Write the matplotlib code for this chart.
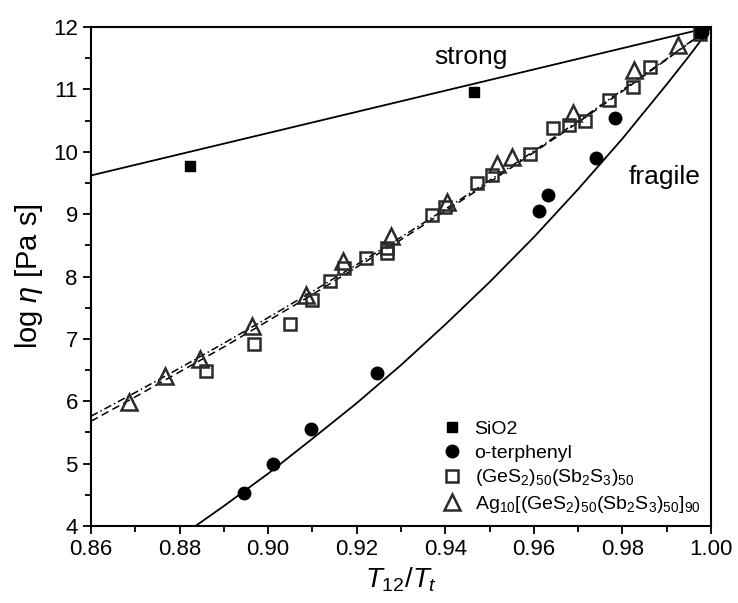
import matplotlib
matplotlib.use('Agg')

import matplotlib.pyplot as plt
from matplotlib.ticker import MultipleLocator

plt.rcParams.update({
    'font.family': ['Liberation Sans', 'DejaVu Sans'],
    'mathtext.fontset': 'custom',
    'mathtext.rm': 'Liberation Sans',
    'mathtext.it': 'Liberation Sans:italic',
    'font.size': 15,
})

# ── data ─────────────────────────────────────────────────────────────────────
sio2_x = [0.8824, 0.9465, 0.9975]
sio2_y = [9.77, 10.96, 11.90]

oter_x = [0.8945, 0.9011, 0.9097, 0.9246, 0.9611, 0.9632, 0.9740, 0.9783, 0.9980]
oter_y = [4.53, 4.99, 5.55, 6.45, 9.05, 9.30, 9.90, 10.54, 11.92]

gs_x = [0.8860, 0.8968, 0.9050, 0.9100, 0.9140, 0.9171, 0.9221, 0.9268, 0.9268,
        0.9370, 0.9400, 0.9472, 0.9505, 0.9591, 0.9643, 0.9679, 0.9715, 0.9770,
        0.9824, 0.9862, 0.9975]
gs_y = [6.48, 6.92, 7.24, 7.62, 7.93, 8.13, 8.29, 8.46, 8.38,
        8.98, 9.12, 9.50, 9.63, 9.96, 10.38, 10.43, 10.49, 10.83,
        11.04, 11.36, 11.88]

ag_x = [0.8686, 0.8767, 0.8846, 0.8964, 0.9085, 0.9169, 0.9277, 0.9404, 0.9517,
        0.9551, 0.9688, 0.9826, 0.9925]
ag_y = [5.99, 6.40, 6.68, 7.21, 7.70, 8.25, 8.65, 9.19, 9.80,
        9.91, 10.62, 11.31, 11.71]

# reference lines (strong / fragile) and fits
strong_x = [0.86, 1.00]
strong_y = [9.62, 12.00]

fragile_x = [0.88, 0.89, 0.90, 0.91, 0.92, 0.93, 0.94, 0.95, 0.96, 0.97, 0.98,
             0.99, 0.995, 1.00]
fragile_y = [3.82, 4.32, 4.84, 5.40, 5.97, 6.58, 7.23, 7.91, 8.63, 9.40, 10.21,
             11.08, 11.53, 12.00]

fit_x = [0.86, 0.87, 0.88, 0.89, 0.90, 0.91, 0.92, 0.93, 0.94, 0.95, 0.96,
         0.97, 0.98, 0.99, 1.00]
fit_gs_y = [5.68, 6.07, 6.47, 6.87, 7.29, 7.71, 8.15, 8.59, 9.05, 9.51, 9.99,
            10.47, 10.97, 11.48, 12.00]
fit_ag_y = [5.76, 6.14, 6.53, 6.93, 7.34, 7.76, 8.19, 8.63, 9.08, 9.54, 10.01,
            10.49, 10.99, 11.49, 12.00]

labels = ['SiO2', 'o-terphenyl',
          r'(GeS$_2$)$_{50}$(Sb$_2$S$_3$)$_{50}$',
          r'Ag$_{10}$[(GeS$_2$)$_{50}$(Sb$_2$S$_3$)$_{50}$]$_{90}$']

# ── figure ───────────────────────────────────────────────────────────────────
fig = plt.figure(figsize=(7.38, 6.03), dpi=100, facecolor='white')
ax = fig.add_axes([0.1233, 0.1277, 0.8401, 0.8275])

ax.plot(strong_x, strong_y, color='black', lw=1.3, zorder=2)
ax.plot(fragile_x, fragile_y, color='black', lw=1.3, zorder=2)
ax.plot(fit_x, fit_gs_y, color='black', lw=1.1, ls=(0, (5, 3)), zorder=2)
ax.plot(fit_x, fit_ag_y, color='black', lw=1.1, ls=(0, (5, 2, 1, 2)), zorder=2)

ax.plot(sio2_x, sio2_y, ls='none', marker='s', ms=7.5, color='black',
        label=labels[0], zorder=4)
ax.plot(oter_x, oter_y, ls='none', marker='o', ms=9, color='black',
        label=labels[1], zorder=4)
ax.plot(gs_x, gs_y, ls='none', marker='s', ms=9, mfc='none', mec='#2a2a2a',
        mew=1.8, label=labels[2], zorder=3)
ax.plot(ag_x, ag_y, ls='none', marker='^', ms=11, mfc='none', mec='#2a2a2a',
        mew=1.8, label=labels[3], zorder=3)

ax.text(0.9458, 11.52, 'strong', fontsize=19, ha='center', va='center')
ax.text(0.9896, 9.59, 'fragile', fontsize=19, ha='center', va='center')

ax.set_xlim(0.86, 1.00)
ax.set_ylim(4, 12)
ax.xaxis.set_major_locator(MultipleLocator(0.02))
ax.xaxis.set_minor_locator(MultipleLocator(0.01))
ax.yaxis.set_major_locator(MultipleLocator(1))
ax.yaxis.set_minor_locator(MultipleLocator(0.5))
ax.xaxis.set_major_formatter(plt.FormatStrFormatter('%.2f'))
ax.tick_params(which='both', direction='out', top=False, right=False,
               width=1.3, labelsize=16)
ax.tick_params(which='major', length=6)
ax.tick_params(which='minor', length=4)
for sp in ax.spines.values():
    sp.set_linewidth(1.5)

ax.set_xlabel(r'$T_{12}/T_t$', fontsize=20, labelpad=4)
ax.set_ylabel(r'log $\eta$ [Pa s]', fontsize=21, labelpad=6)

ax.legend(loc='lower right', frameon=False, fontsize=14, handletextpad=0.55,
          labelspacing=0.3, borderaxespad=0.15, handlelength=1.2)

fig.savefig('out.png', dpi=100, facecolor='white')
